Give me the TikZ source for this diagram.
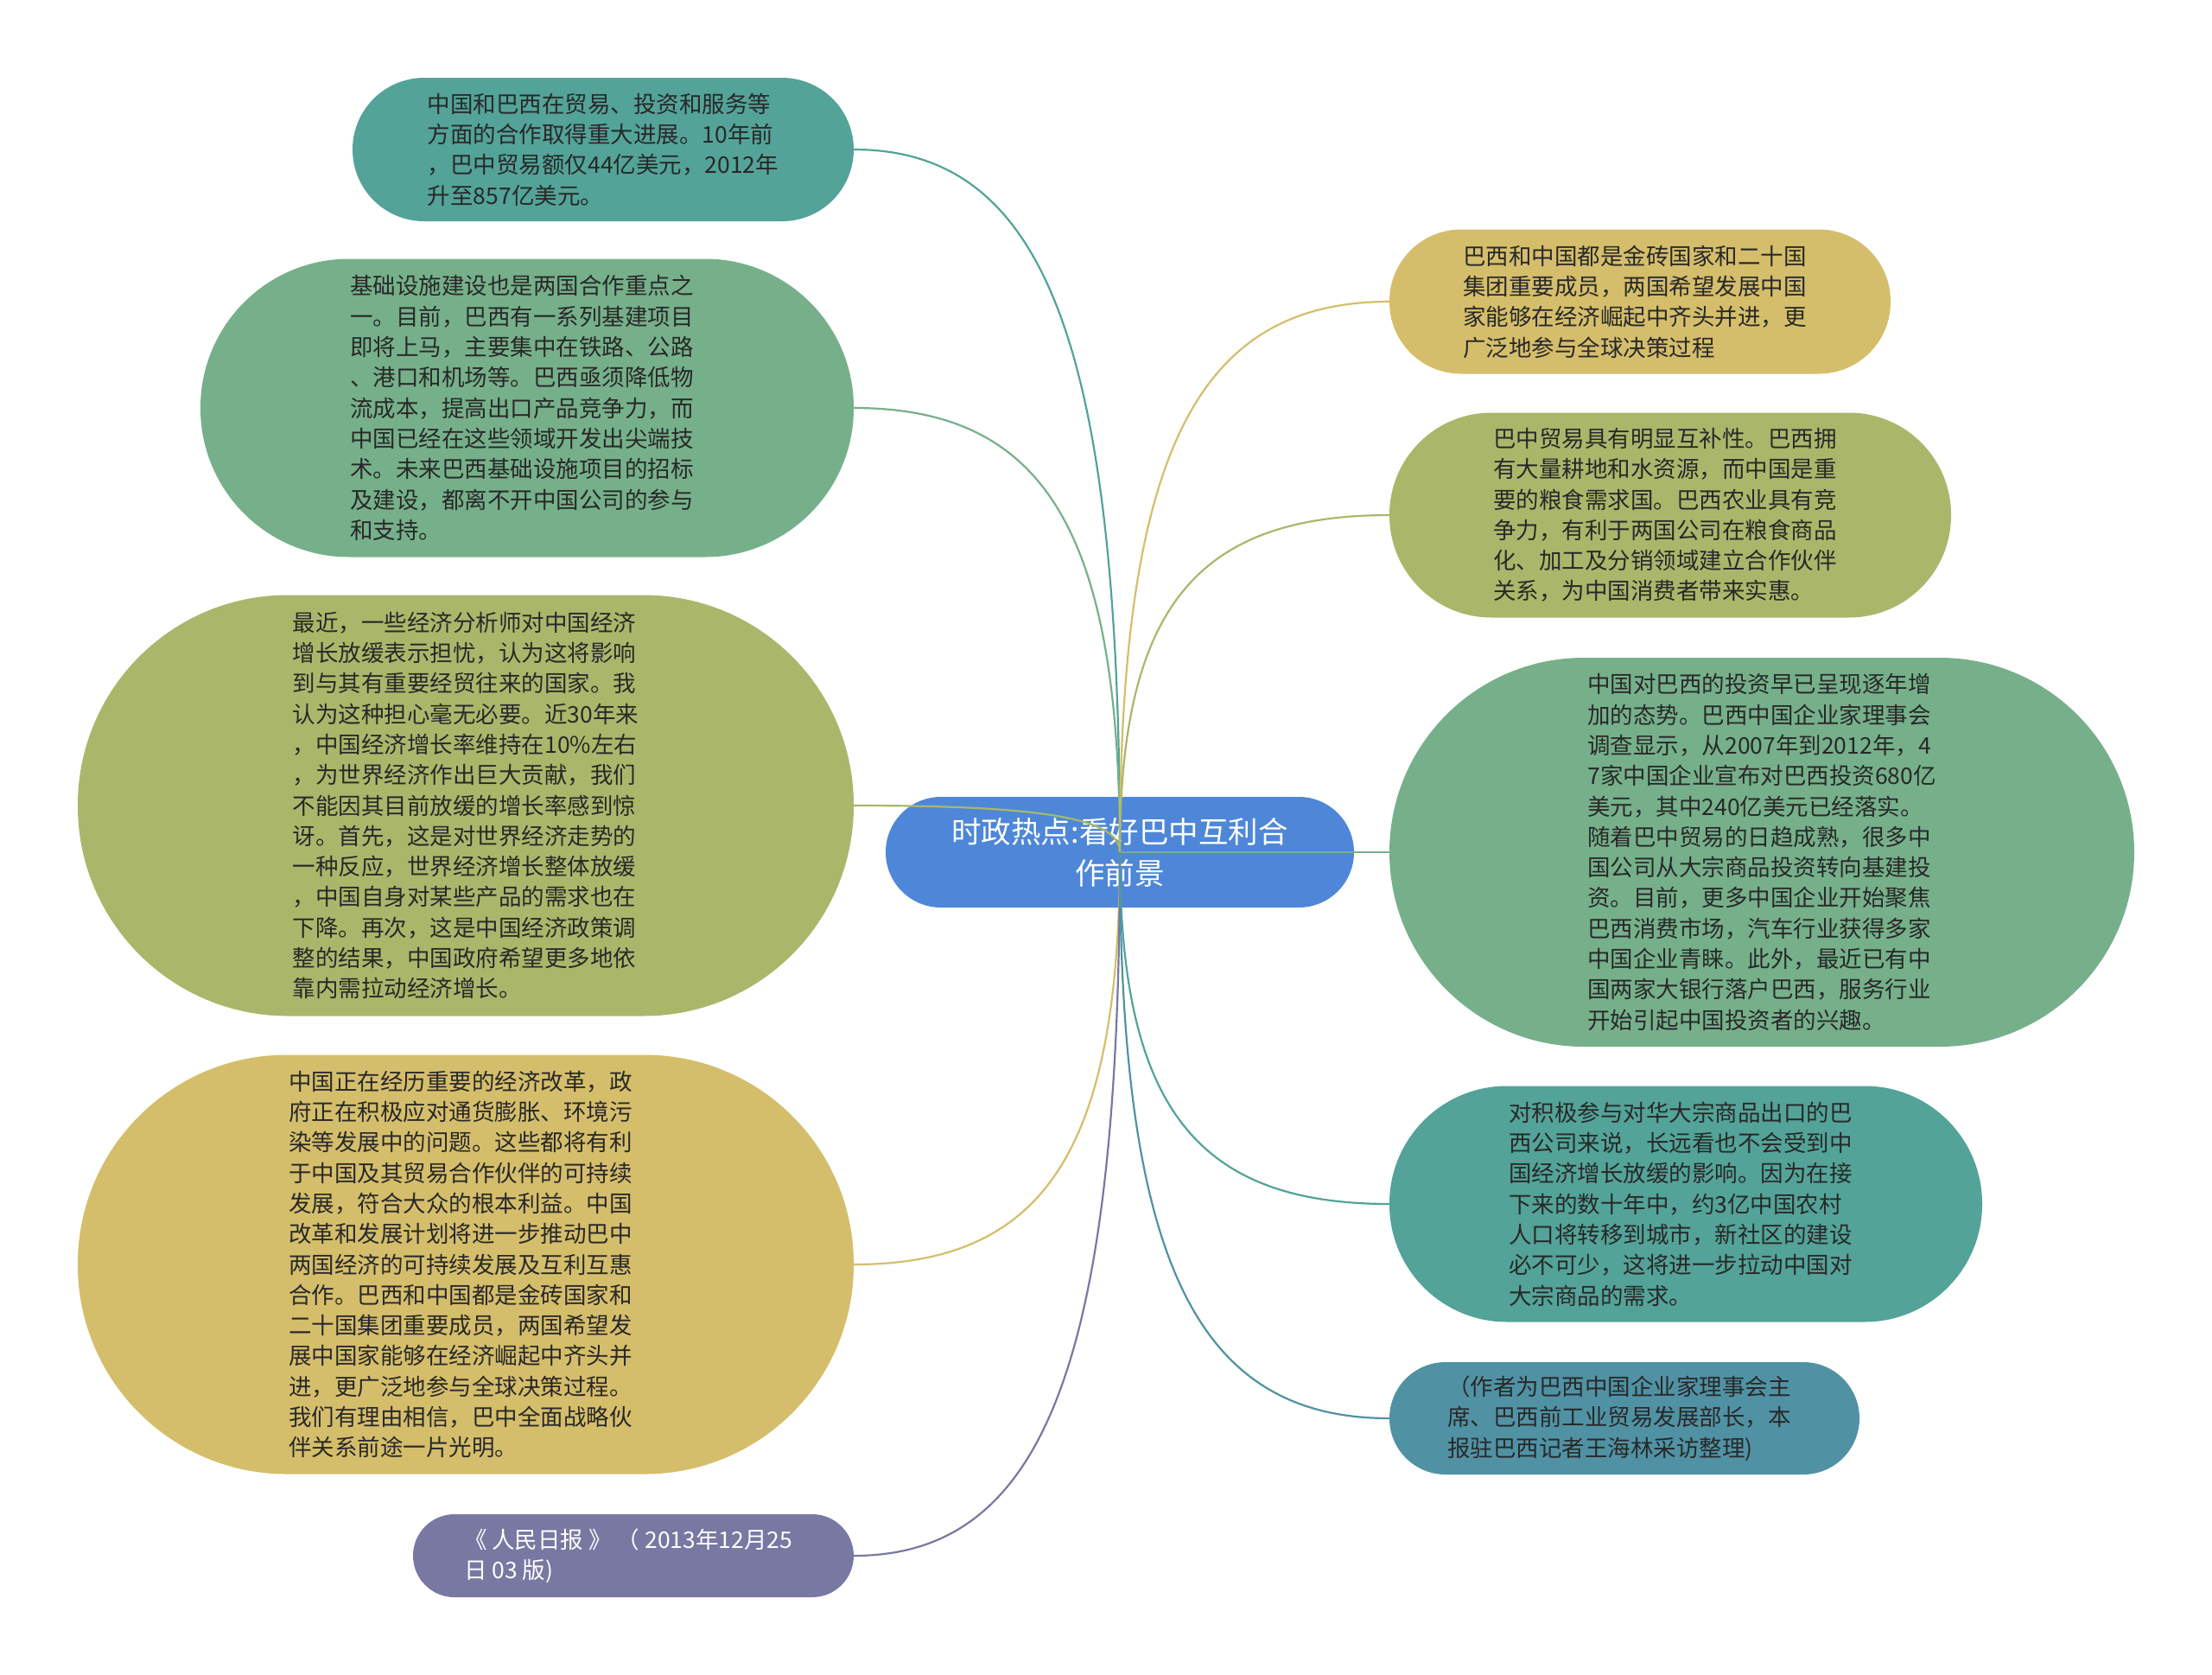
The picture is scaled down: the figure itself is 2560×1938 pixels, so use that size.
\documentclass[tikz,border=0pt]{standalone}
\usepackage{fontspec}
\newfontfamily\cjk{Noto Sans CJK SC}
\usetikzlibrary{calc}
\definecolor{cTeal}{RGB}{83,163,152}
\definecolor{cGreen}{RGB}{118,176,138}
\definecolor{cOlive}{RGB}{170,183,107}
\definecolor{cGold}{RGB}{213,190,107}
\definecolor{cPurple}{RGB}{120,120,162}
\definecolor{cBlue}{RGB}{78,135,216}
\definecolor{cSteel}{RGB}{80,146,164}
\definecolor{cText}{RGB}{40,40,40}
\newcommand\mmconn[3]{\draw[line width=2.2pt,#1] (c.center) .. controls ($(c.center)!0.72!(c.center |- #2.#3)$) and ($(#2.#3)!0.72!(c.center |- #2.#3)$) .. (#2.#3);}
\newcommand\padr{\hspace*{12pt}}
\tikzset{
  mmbox/.style={inner sep=0pt, align=left, text=cText,
    font=\cjk\fontsize{26.5}{35.3}\selectfont},
}
\begin{document}
\begin{tikzpicture}[x=1pt,y=-1pt]
\useasboundingbox (0,0) rectangle (2560,1938);
\fill[white] (0,0) rectangle (2560,1938);

% left side
\node[mmbox, fill=cTeal, minimum width=580pt, minimum height=166pt, rounded corners=83pt] (n1) at (698,173) {中国和巴西在贸易、投资和服务等\\方面的合作取得重大进展。10年前\\，巴中贸易额仅44亿美元，2012年\padr\\升至857亿美元。};

\node[mmbox, fill=cGreen, minimum width=756pt, minimum height=345pt, rounded corners=172pt] (n2) at (610,472) {基础设施建设也是两国合作重点之\padr\\一。目前，巴西有一系列基建项目\\即将上马，主要集中在铁路、公路\\、港口和机场等。巴西亟须降低物\\流成本，提高出口产品竞争力，而\\中国已经在这些领域开发出尖端技\\术。未来巴西基础设施项目的招标\\及建设，都离不开中国公司的参与\\和支持。};

\node[mmbox, fill=cOlive, minimum width=898pt, minimum height=487pt, rounded corners=243pt] (n3) at (539,932) {最近，一些经济分析师对中国经济\\增长放缓表示担忧，认为这将影响\\到与其有重要经贸往来的国家。我\\认为这种担心毫无必要。近30年来\padr\\，中国经济增长率维持在10\%左右\\，为世界经济作出巨大贡献，我们\\不能因其目前放缓的增长率感到惊\\讶。首先，这是对世界经济走势的\\一种反应，世界经济增长整体放缓\\，中国自身对某些产品的需求也在\\下降。再次，这是中国经济政策调\\整的结果，中国政府希望更多地依\\靠内需拉动经济增长。};

\node[mmbox, fill=cGold, minimum width=898pt, minimum height=485pt, rounded corners=242pt] (n4) at (539,1463) {中国正在经历重要的经济改革，政\padr\\府正在积极应对通货膨胀、环境污\\染等发展中的问题。这些都将有利\\于中国及其贸易合作伙伴的可持续\\发展，符合大众的根本利益。中国\\改革和发展计划将进一步推动巴中\\两国经济的可持续发展及互利互惠\\合作。巴西和中国都是金砖国家和\\二十国集团重要成员，两国希望发\\展中国家能够在经济崛起中齐头并\\进，更广泛地参与全球决策过程。\\我们有理由相信，巴中全面战略伙\\伴关系前途一片光明。};

\node[mmbox, text=white, fill=cPurple, minimum width=510pt, minimum height=96pt, rounded corners=48pt] (n5) at (733,1800) {《 人民日报 》 （ 2013年12月25\padr\\日 03 版)};

% center
\node[inner sep=0pt, align=center, text=white, font=\cjk\fontsize{34.5}{48}\selectfont, fill=cBlue, minimum width=542pt, minimum height=128pt, rounded corners=64pt] (c) at (1296,986) {时政热点:看好巴中互利合\\作前景};

% right side
\node[mmbox, fill=cGold, minimum width=580pt, minimum height=167pt, rounded corners=83pt] (n6) at (1898,349) {巴西和中国都是金砖国家和二十国\padr\\集团重要成员，两国希望发展中国\\家能够在经济崛起中齐头并进，更\\广泛地参与全球决策过程};

\node[mmbox, fill=cOlive, minimum width=650pt, minimum height=237pt, rounded corners=118pt] (n7) at (1933,596) {巴中贸易具有明显互补性。巴西拥\padr\\有大量耕地和水资源，而中国是重\\要的粮食需求国。巴西农业具有竞\\争力，有利于两国公司在粮食商品\\化、加工及分销领域建立合作伙伴\\关系，为中国消费者带来实惠。};

\node[mmbox, fill=cGreen, minimum width=862pt, minimum height=450pt, rounded corners=225pt] (n8) at (2039,986) {中国对巴西的投资早已呈现逐年增\\加的态势。巴西中国企业家理事会\\调查显示，从2007年到2012年，4\\7家中国企业宣布对巴西投资680亿\padr\\美元，其中240亿美元已经落实。\\随着巴中贸易的日趋成熟，很多中\\国公司从大宗商品投资转向基建投\\资。目前，更多中国企业开始聚焦\\巴西消费市场，汽车行业获得多家\\中国企业青睐。此外，最近已有中\\国两家大银行落户巴西，服务行业\\开始引起中国投资者的兴趣。};

\node[mmbox, fill=cTeal, minimum width=686pt, minimum height=273pt, rounded corners=136pt] (n9) at (1951,1393) {对积极参与对华大宗商品出口的巴\padr\\西公司来说，长远看也不会受到中\\国经济增长放缓的影响。因为在接\\下来的数十年中，约3亿中国农村\\人口将转移到城市，新社区的建设\\必不可少，这将进一步拉动中国对\\大宗商品的需求。};

\node[mmbox, fill=cSteel, minimum width=544pt, minimum height=130pt, rounded corners=65pt] (n10) at (1880,1641) {（作者为巴西中国企业家理事会主\padr\\席、巴西前工业贸易发展部长，本\\报驻巴西记者王海林采访整理)};

% connectors
\mmconn{cTeal}{n1}{east}
\mmconn{cGreen}{n2}{east}
\mmconn{cOlive}{n3}{east}
\mmconn{cGold}{n4}{east}
\mmconn{cPurple}{n5}{east}
\mmconn{cGold}{n6}{west}
\mmconn{cOlive}{n7}{west}
\mmconn{cGreen}{n8}{west}
\mmconn{cTeal}{n9}{west}
\mmconn{cSteel}{n10}{west}
\end{tikzpicture}
\end{document}
